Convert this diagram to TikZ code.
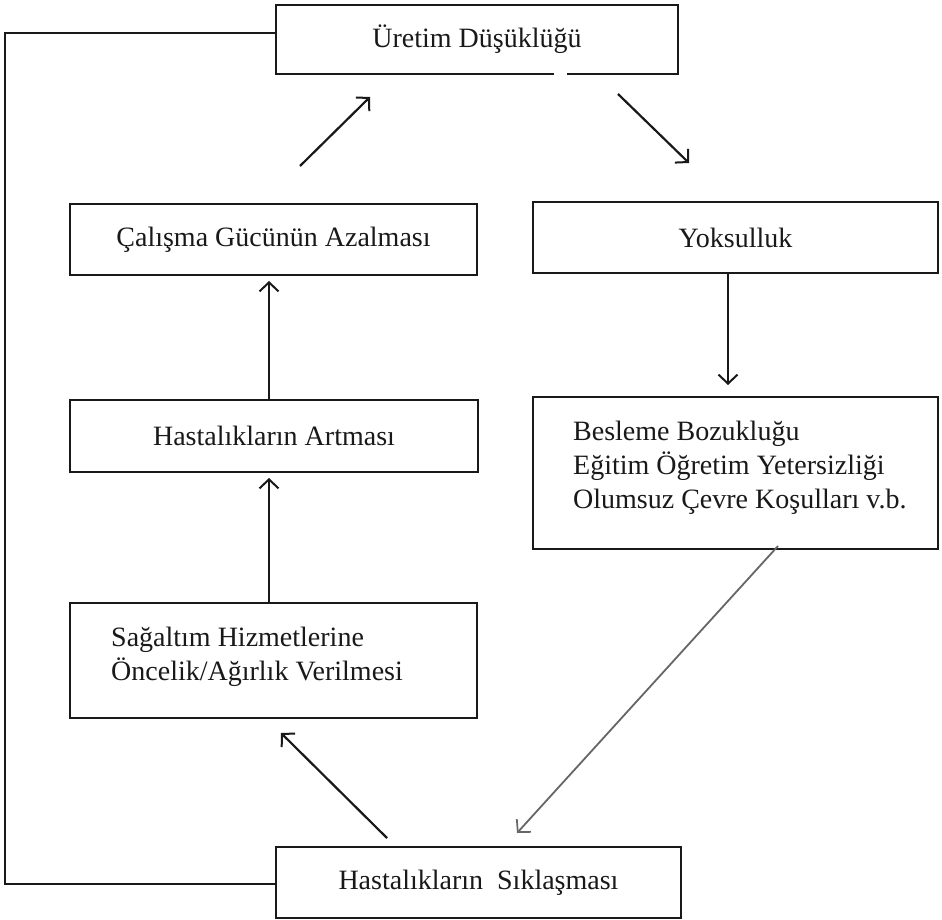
\documentclass[tikz,border=0pt]{standalone}
\usepackage{fontspec}
\setmainfont{Liberation Serif}
\usetikzlibrary{arrows.meta,positioning}
\begin{document}
\begin{tikzpicture}[x=1pt,y=-1pt,
  box/.style={draw=black!90, line width=2pt, rectangle, inner sep=0pt, align=center,
    font=\fontsize{28}{34}\selectfont, text=black!90},
  txt/.style={inner sep=0pt, align=left, font=\fontsize{28}{34}\selectfont, text=black!90, anchor=west},
  arr/.style={line width=2.2pt, draw=black!90, -{Straight Barb[length=9pt,width=19pt,line width=2pt]}},
  garr/.style={line width=1.8pt, draw=black!60, -{Straight Barb[length=9pt,width=19pt,line width=1.7pt]}},
  loopline/.style={line width=2.6pt, draw=black!90}
]
\useasboundingbox (0,0) rectangle (942,920);
\fill[white] (0,0) rectangle (942,920);

\node[box, minimum width=402pt, minimum height=69pt] (ur) at (477,39.5) {Üretim Düşüklüğü};
\node[box, minimum width=407pt, minimum height=71pt] (cal) at (273.5,239.5) {Çalışma Gücünün Azalması};
\node[box, minimum width=405pt, minimum height=71pt] (yok) at (735.5,237.5) {Yoksulluk};
\node[box, minimum width=408pt, minimum height=72pt] (ha) at (274,436) {Hastalıkların Artması};
\node[box, minimum width=405pt, minimum height=152pt] (bes) at (735.5,473) {};
\node[txt] (bestxt) at ([xshift=41pt,yshift=5pt]bes.west)
  {Besleme Bozukluğu\\Eğitim Öğretim Yetersizliği\\Olumsuz Çevre Koşulları v.b.};
\node[box, minimum width=407pt, minimum height=115pt] (sag) at (273.5,660.5) {};
\node[txt] (sagtxt) at ([xshift=42pt,yshift=3.5pt]sag.west)
  {Sağaltım Hizmetlerine\\Öncelik/Ağırlık Verilmesi};
\node[box, minimum width=405pt, minimum height=71pt] (sik) at (478.5,882.5) {Hastalıkların\ \ Sıklaşması};

% gap in the bottom edge of the top box
\draw[white, line width=3.5pt] ([xshift=77pt]ur.south) -- ([xshift=90pt]ur.south);

\coordinate (lx) at (5,460);
\coordinate (xl) at (269,0);
\coordinate (xr) at (728,0);
\coordinate (a1s) at (300,166);
\coordinate (a1e) at (370,97);
\coordinate (a2s) at (618,94);
\coordinate (a2e) at (689,163);
\coordinate (a3s) at (387,838);
\coordinate (a3e) at (281,733);
\coordinate (a4s) at (778,546);
\coordinate (a4e) at (517,833);

\draw[loopline] ([yshift=6.5pt]ur.west) -| (lx) |- ([yshift=-1.5pt]sik.west);

\draw[arr] (a1s) -- (a1e);
\draw[arr] (a2s) -- (a2e);
\draw[arr, shorten >=11pt] (yok.south -| xr) -- (bes.north -| xr);
\draw[arr, shorten >=5pt] (ha.north -| xl) -- (cal.south -| xl);
\draw[arr, shorten >=5pt] (sag.north -| xl) -- (ha.south -| xl);
\draw[arr] (a3s) -- (a3e);
\draw[garr] (a4s) -- (a4e);
\end{tikzpicture}
\end{document}
